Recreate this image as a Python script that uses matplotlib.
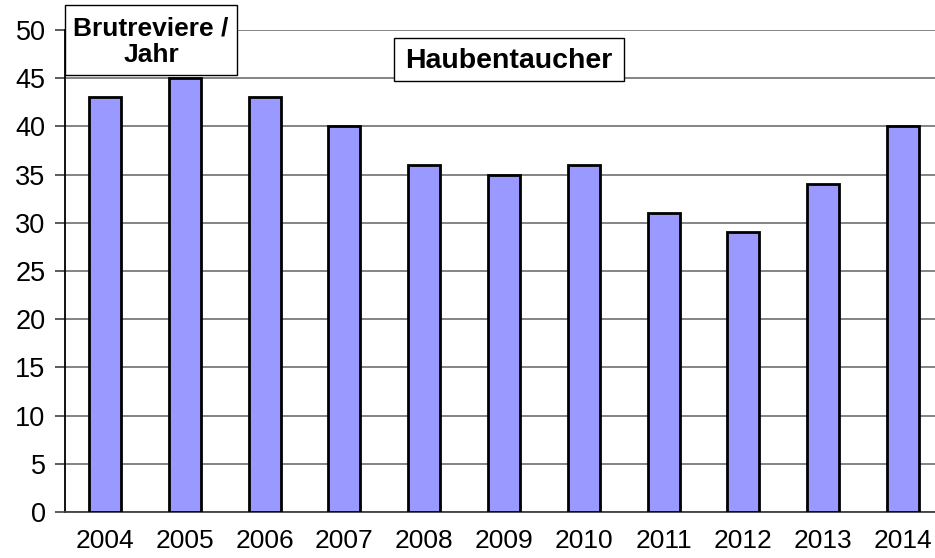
import matplotlib
matplotlib.use('Agg')
import matplotlib.pyplot as plt
from matplotlib.patches import Rectangle

years = ['2004', '2005', '2006', '2007', '2008', '2009', '2010', '2011', '2012', '2013', '2014']
reviere = [43, 45, 43, 40, 36, 35, 36, 31, 29, 34, 40]

plt.rcParams['font.family'] = ['Liberation Sans', 'DejaVu Sans']

W, H = 935, 558
fig = plt.figure(figsize=(W / 100, H / 100), dpi=100)
# plot area runs past the right edge of the picture, like the original
ax = fig.add_axes([65 / W, (H - 512) / H, 878 / W, 482 / H])

x = range(len(years))
ax.bar(x, reviere, width=0.4, color='#9999FF', edgecolor='black', linewidth=2.0, zorder=3)

ax.set_xlim(-0.5, len(years) - 0.5)
ax.set_ylim(0, 50)
ax.set_yticks(range(0, 51, 5))
ax.set_xticks(list(x))
ax.set_xticklabels(years)
ax.yaxis.grid(True, color='#7a7a7a', linewidth=1.3, zorder=0)
ax.set_axisbelow(True)

for s in ['top', 'right']:
    ax.spines[s].set_visible(False)
ax.spines['left'].set_color('black')
ax.spines['left'].set_linewidth(1.3)
ax.spines['bottom'].set_color('#404040')
ax.spines['bottom'].set_linewidth(1.3)

ax.tick_params(axis='y', length=7, width=1.2, color='#404040', labelsize=19.5, pad=7)
ax.tick_params(axis='x', length=0, labelsize=19, pad=12)

# text boxes in pixel positions of the figure
def box(x0, y0, x1, y1, txt, size):
    fig.patches.append(Rectangle((x0 / W, 1 - y1 / H), (x1 - x0) / W, (y1 - y0) / H,
                                 transform=fig.transFigure, facecolor='white',
                                 edgecolor='black', linewidth=1.0, zorder=5))
    fig.text((x0 + x1) / 2 / W, 1 - (y0 + y1 + 3) / 2 / H, txt, ha='center', va='center',
             fontsize=size, fontweight='bold', linespacing=1.15, zorder=6)

box(65, 5, 237, 75, 'Brutreviere /\nJahr', 19)
box(394, 38, 624, 81, 'Haubentaucher', 20.5)

fig.savefig('out.png', dpi=100)
